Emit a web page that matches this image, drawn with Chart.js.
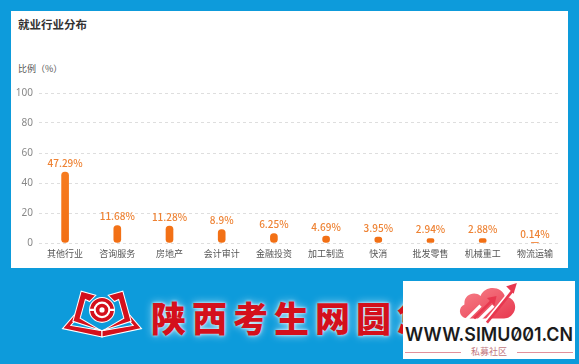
<!DOCTYPE html>
<html>
<head>
<meta charset="utf-8">
<script src="https://cdn.jsdelivr.net/npm/chart.js@4/dist/chart.umd.min.js"></script>
<style>
  html, body { margin: 0; padding: 0; }
  body {
    width: 579px; height: 364px; overflow: hidden; position: relative;
    background: #0d9bdb;
    font-family: "Noto Sans CJK SC", "Noto Sans", sans-serif;
  }
  #panel { position: absolute; left: 11px; top: 11px; width: 557px; height: 257px; background: #fff; }
  #title { position: absolute; left: 7px; top: 5px; font-size: 11.5px; font-weight: 700; color: #333; line-height: 17px; }
  #unit { position: absolute; left: 7px; top: 51px; font-size: 9px; color: #555; line-height: 13px; }
  #wrap { position: absolute; left: 0; top: 69px; width: 557px; height: 186px; }
  #logo { position: absolute; left: 60px; top: 287px; width: 84px; height: 52px; }
  #brand {
    position: absolute; left: 151px; top: 298px; font-size: 35px; line-height: 37px;
    font-weight: 900; color: #d4101c; letter-spacing: 6px; white-space: nowrap;
    text-shadow: 0 0 3px rgba(255,255,255,0.95), 0 0 8px rgba(220,245,255,0.8);
  }
  #mark { position: absolute; left: 403px; top: 281px; width: 172px; height: 78px; background: #fff; overflow: hidden; }
  #cloud { position: absolute; left: 54px; top: 1px; width: 62px; height: 45px; }
  #site {
    position: absolute; left: 2px; top: 43px;
    font-family: Inter, "Liberation Sans", sans-serif; font-weight: 600; font-size: 19px;
    color: #1b1b1b; line-height: 22px; white-space: nowrap;
    font-feature-settings: "zero" 1;
  }
  #site span { display: inline-block; transform-origin: left center; }
  #sub { position: absolute; left: 0; top: 64px; width: 172px; height: 14px; }
  #sub .ln { position: absolute; top: 7px; height: 1px; background: #e3909a; }
  #sub .tx { position: absolute; left: 0; width: 172px; top: 0; text-align: center; font-size: 9px; line-height: 14px; color: #c27880; }
</style>
</head>
<body>
<div id="panel">
  <div id="title">就业行业分布</div>
  <div id="unit">比例（%）</div>
  <div id="wrap"><canvas id="chart"></canvas></div>
</div>

<svg id="logo" viewBox="0 0 80 50">
  <!-- open book with round emblem -->
  <path d="M40 48 L2 40 L14 26 L18 28 L10 37 L40 42 Z" fill="#d4101c" stroke="#fff" stroke-width="1"/>
  <path d="M40 48 L78 40 L66 26 L62 28 L70 37 L40 42 Z" fill="#d4101c" stroke="#fff" stroke-width="1"/>
  <path d="M12 33 L20 4 L34 8 L28 14 L24 12 L19 30 L36 40 L40 42 Z" fill="#d4101c" stroke="#fff" stroke-width="1"/>
  <path d="M68 33 L60 4 L46 8 L52 14 L56 12 L61 30 L44 40 L40 42 Z" fill="#d4101c" stroke="#fff" stroke-width="1"/>
  <circle cx="40" cy="22" r="12" fill="#d4101c" stroke="#fff" stroke-width="1"/>
  <circle cx="40" cy="22" r="7" fill="none" stroke="#fff" stroke-width="2"/>
  <circle cx="40" cy="22" r="2.5" fill="#fff"/>
  <path d="M28 22 L33 22 M47 22 L52 22" stroke="#fff" stroke-width="2"/>
</svg>
<div id="brand">陕西考生网圆您</div>

<div id="mark">
  <svg id="cloud" viewBox="0 0 58 42">
    <defs>
      <linearGradient id="cg" x1="0" y1="0" x2="1" y2="1">
        <stop offset="0" stop-color="#f7828a"/>
        <stop offset="1" stop-color="#e8384f"/>
      </linearGradient>
    </defs>
    <path d="M10 34 C2 34 0 24 7 21 C6 12 16 8 22 13 C26 3 42 3 45 14 C54 14 57 24 52 30 C50 33 47 34 44 34 Z" fill="url(#cg)"/>
    <path d="M2 42 L22 22 M14 42 L34 22 M26 38 L54 4" stroke="#fff" stroke-width="3"/>
    <path d="M16 34 L34 16" stroke="#e8384f" stroke-width="2.5"/>
    <path d="M28 38 L52 8" stroke="#e8384f" stroke-width="2.5"/>
    <path d="M46 4 L56 1 L53 11 Z" fill="#e8384f"/>
    <path d="M28 15 L37 13 L35 22 Z" fill="#e8384f"/>
  </svg>
  <div id="site"><span id="siteText">WWW.SIMU001.CN</span></div>
  <div id="sub">
    <div class="ln" style="left:2px;width:56px"></div>
    <div class="ln" style="left:114px;width:56px"></div>
    <div class="tx">私募社区</div>
  </div>
</div>

<script>
// Employment share by industry (%)
const categories = ['其他行业', '咨询服务', '房地产', '会计审计', '金融投资', '加工制造', '快消', '批发零售', '机械重工', '物流运输'];
const shares = [47.29, 11.68, 11.28, 8.9, 6.25, 4.69, 3.95, 2.94, 2.88, 0.14];
const yTicks = [0, 20, 40, 60, 80, 100];

// fit the site name to the watermark box width
(function () {
  const s = document.getElementById('siteText');
  const w = s.getBoundingClientRect().width;
  s.style.transform = 'scaleX(' + (168 / w) + ')';
})();

// percentage labels above every bar
const valueLabels = {
  id: 'valueLabels',
  afterDatasetsDraw(chart) {
    const ctx = chart.ctx;
    const meta = chart.getDatasetMeta(0);
    ctx.save();
    ctx.font = '500 10px "Noto Sans CJK SC", "Noto Sans", sans-serif';
    ctx.fillStyle = '#ee8233';
    ctx.textAlign = 'center';
    ctx.textBaseline = 'middle';
    meta.data.forEach((bar, i) => {
      ctx.fillText(shares[i] + '%', bar.x, bar.y - 9);
    });
    ctx.restore();
  }
};

const canvas = document.getElementById('chart');
const barFill = (context) => {
  const chart = context.chart;
  const area = chart.chartArea;
  if (!area) return '#f57c1e';
  const g = chart.ctx.createLinearGradient(0, area.top, 0, area.bottom);
  g.addColorStop(0, '#fb8a2c');
  g.addColorStop(1, '#f26f14');
  return g;
};

new Chart(canvas, {
  type: 'bar',
  data: {
    labels: categories,
    datasets: [{
      data: shares,
      backgroundColor: barFill,
      barThickness: 7,
      borderRadius: 4,
      borderSkipped: false
    }]
  },
  options: {
    responsive: true,
    maintainAspectRatio: false,
    animation: false,
    layout: { padding: { top: 13, right: 7, bottom: 8, left: 0 } },
    plugins: { legend: { display: false }, tooltip: { enabled: false } },
    scales: {
      x: {
        grid: { display: false, drawTicks: false },
        border: { display: false },
        ticks: {
          color: '#555',
          padding: 5,
          maxRotation: 0,
          autoSkip: false,
          font: { size: 9, family: '"Noto Sans CJK SC", "Noto Sans", sans-serif' }
        },
        afterFit(scale) { scale.height = 15; }
      },
      y: {
        min: 0,
        max: 100,
        afterBuildTicks(scale) { scale.ticks = yTicks.map(v => ({ value: v })); },
        grid: { color: '#dedede', drawTicks: false, lineWidth: 1 },
        border: { display: false, dash: [3, 3] },
        ticks: {
          color: '#888',
          padding: 6,
          font: { size: 10, family: '"Noto Sans", "DejaVu Sans", sans-serif' }
        },
        afterFit(scale) { scale.width = 28; }
      }
    }
  },
  plugins: [valueLabels]
});
</script>
</body>
</html>
